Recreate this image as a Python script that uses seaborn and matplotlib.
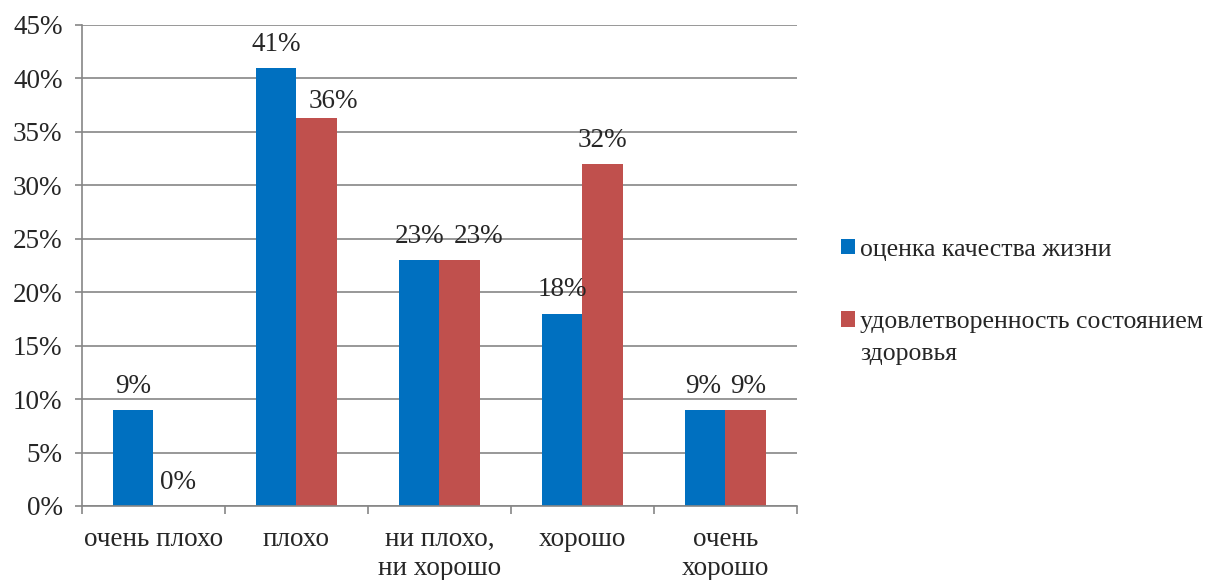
import pandas as pd
import matplotlib.pyplot as plt
import seaborn as sns
from matplotlib.ticker import PercentFormatter

# Данные
categories = ["очень плохо", "плохо", "ни плохо,\nни хорошо", "хорошо", "очень\nхорошо"]
series_names = ["оценка качества жизни", "удовлетворенность состоянием здоровья"]
legend_labels = ["оценка качества жизни", "удовлетворенность состоянием"]
legend_extra = "здоровья"
quality_life = [9, 41, 23, 18, 9]
health_sat = [0, 36.3, 23, 32, 9]
colors = ["#0070C0", "#C0504D"]

df = pd.DataFrame({
    "категория": categories * 2,
    "серия": [series_names[0]] * len(categories) + [series_names[1]] * len(categories),
    "значение": quality_life + health_sat,
})

sns.set_style("white")
plt.rcParams['font.family'] = ['Liberation Serif', 'DejaVu Serif']
fs = 19.5
fs_leg = 18.5

fig = plt.figure(figsize=(12.14, 5.8), dpi=100)
ax = fig.add_axes([0.0675, 0.1276, 0.589, 0.8293])

sns.barplot(data=df, x="категория", y="значение", hue="серия", palette=colors,
            width=0.56, saturation=1, edgecolor="none", ax=ax, legend=True)

# Подписи значений (как в Excel, некоторые сдвинуты вправо)
nudge = {(1, 1): (12, -5), (1, 2): (14, 0), (1, 0): (3, 0), (0, 4): (-2, 0), (1, 4): (2, 0)}
for si, cont in enumerate(ax.containers):
    vals = [b.get_height() for b in cont]
    anns = ax.bar_label(cont, labels=[f"{round(v)}%" for v in vals], padding=8, fontsize=fs)
    for ci, a in enumerate(anns):
        dx, dy = nudge.get((si, ci), (0, 0))
        x0, y0 = a.xyann
        a.xyann = (x0 + dx, y0 + dy)

ax.set_ylim(0, 45)
ax.set_xlim(-0.5, len(categories) - 0.5)
ax.set_yticks(range(0, 46, 5))
ax.yaxis.set_major_formatter(PercentFormatter(decimals=0))
ax.set_xlabel("")
ax.set_ylabel("")

ax.yaxis.grid(True, color="#868686", linewidth=1.2)
ax.set_axisbelow(True)
for s in ["top", "right"]:
    ax.spines[s].set_visible(False)
for s in ["left", "bottom"]:
    ax.spines[s].set_color("#868686")
    ax.spines[s].set_linewidth(1.2)

ax.tick_params(axis="y", labelsize=fs, length=5, color="#868686", width=1.2, left=True, pad=9)
ax.tick_params(axis="x", which="major", labelsize=fs, length=0, pad=15)
ax.set_xticks([i - 0.5 for i in range(len(categories) + 1)], minor=True)
ax.tick_params(axis="x", which="minor", length=6, color="#868686", width=1.2, bottom=True)

handles, _ = ax.get_legend_handles_labels()
leg = ax.legend(handles, legend_labels, loc="upper left", bbox_to_anchor=(0.682, 1 - 226 / 580),
                bbox_transform=fig.transFigure, frameon=False, fontsize=fs_leg, borderpad=0,
                handlelength=0.55, handleheight=0.55, handletextpad=0.2, labelspacing=1.95)

# вторая строка подписи легенды
fig.canvas.draw()
t = leg.get_texts()[1]
bb = t.get_window_extent().transformed(fig.transFigure.inverted())
fig.text(bb.x0, bb.y0 - 32 / 580, legend_extra, fontsize=fs_leg, va="bottom", ha="left")

plt.savefig("out.png", dpi=100)
